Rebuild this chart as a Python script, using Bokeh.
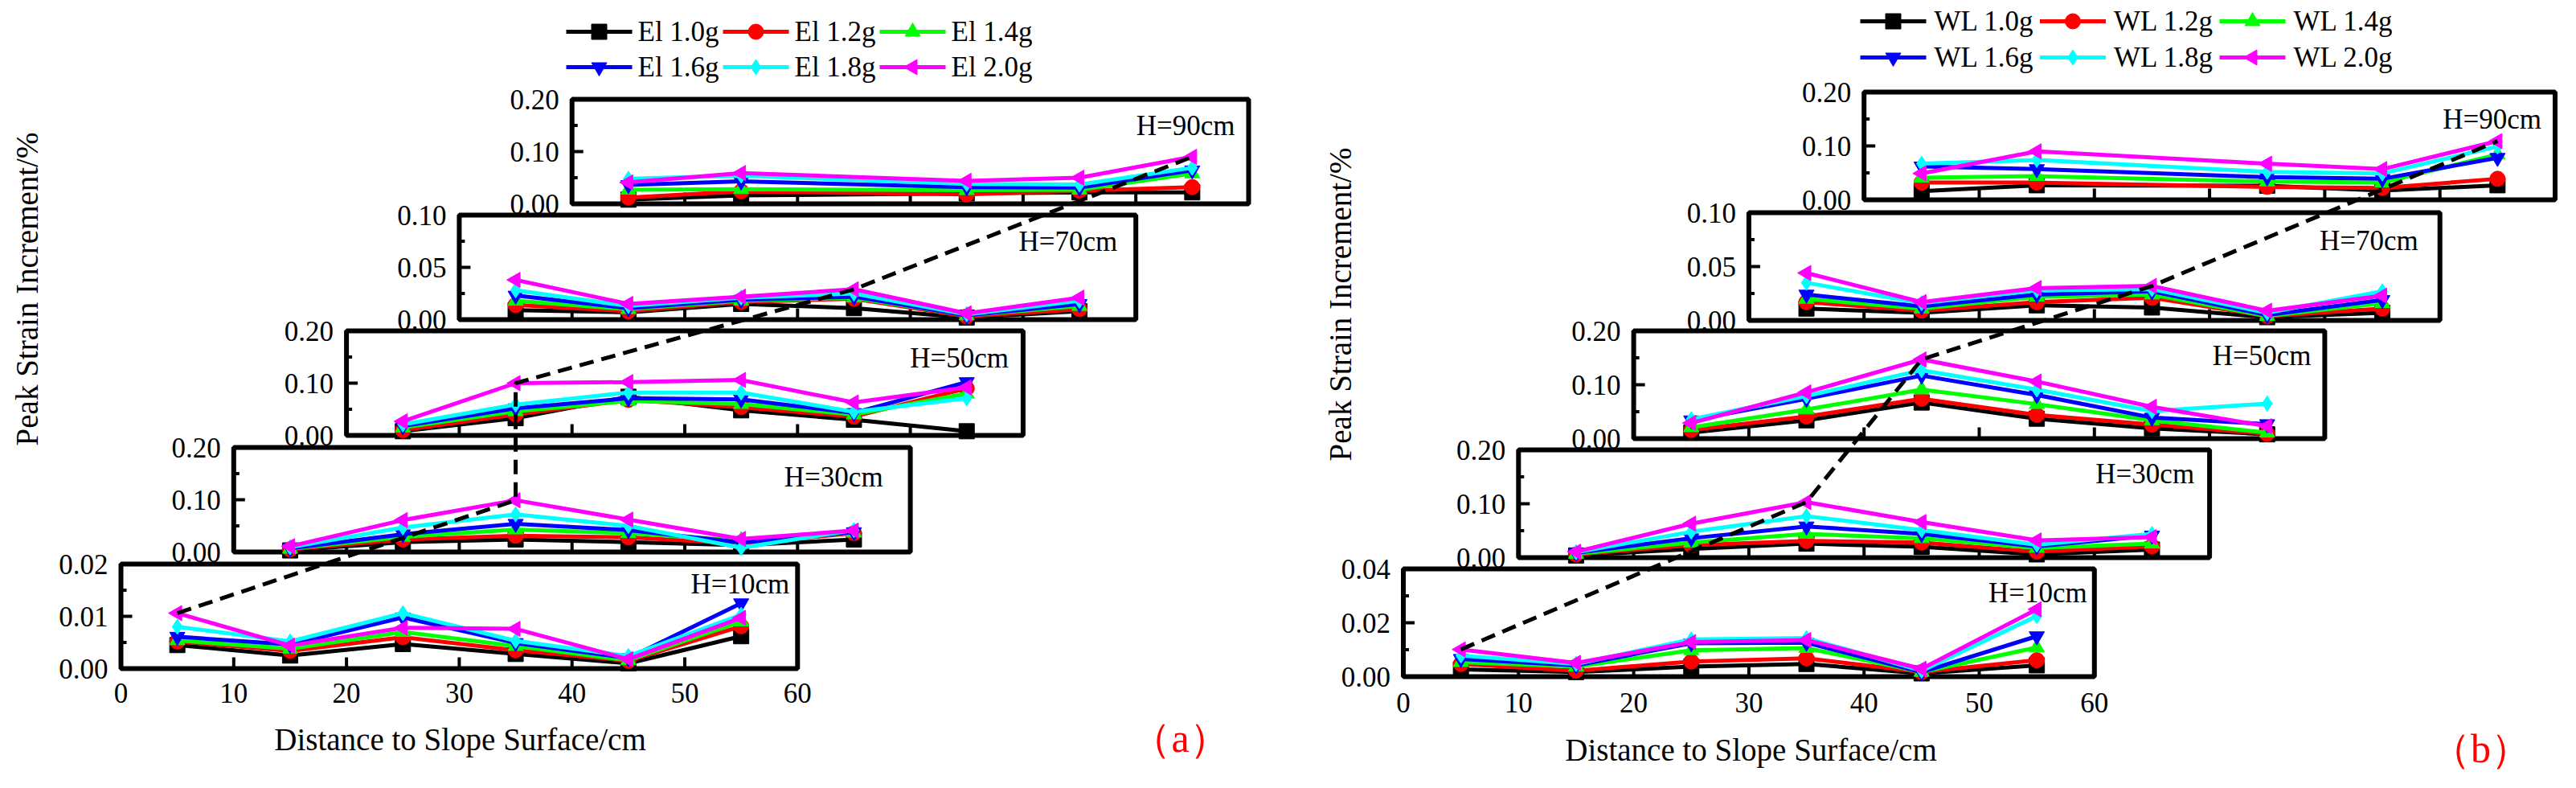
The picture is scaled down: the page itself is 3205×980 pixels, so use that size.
import math

from bokeh.core.properties import value
from bokeh.embed import file_html
from bokeh.layouts import row
from bokeh.models import Range1d
from bokeh.plotting import figure
from bokeh.resources import INLINE

FONT = "Liberation Serif"

# 共通設定
heights = ["H=10cm", "H=30cm", "H=50cm", "H=70cm", "H=90cm"]
levels = ["1.0g", "1.2g", "1.4g", "1.6g", "1.8g", "2.0g"]
colors = ["#000000", "#ff0000", "#00ff00", "#0000ff", "#00ffff", "#ff00ff"]
markers = ["square", "circle", "triangle", "inverted_triangle", "diamond", "triangle"]
marker_angles = [0, 0, 0, 0, 0, math.pi / 2]   # 2.0g は左向き三角
x_local = [5, 15, 25, 35, 45, 55]
x_local_90 = [5, 15, 35, 45, 55]     # H=90cm は 25cm の測点なし
x_ticks = [0, 10, 20, 30, 40, 50, 60]
x_ticks_inner = [10, 20, 30, 40, 50]
panel_shift = [0, 10, 20, 30, 40]     # パネルごとの横ずらし (cm)

# (a) El 波
el_y_max = [0.02, 0.2, 0.2, 0.1, 0.2]
el_y_major = [[0, 0.01, 0.02], [0, 0.1, 0.2], [0, 0.1, 0.2], [0, 0.05, 0.1], [0, 0.1, 0.2]]
el_y_minor = [[0.005, 0.015], [0.05, 0.15], [0.05, 0.15], [0.025, 0.075], [0.05, 0.15]]
el_10 = [
    [0.0045, 0.0025, 0.0047, 0.0028, 0.0010, 0.0062],
    [0.0052, 0.0034, 0.0060, 0.0035, 0.0015, 0.0081],
    [0.0054, 0.0038, 0.0070, 0.0043, 0.0016, 0.0090],
    [0.0061, 0.0046, 0.0098, 0.0049, 0.0020, 0.0125],
    [0.0080, 0.0052, 0.0106, 0.0053, 0.0024, 0.0103],
    [0.0106, 0.0044, 0.0078, 0.0076, 0.0018, 0.0097],
]
el_30 = [
    [0.003, 0.019, 0.024, 0.019, 0.013, 0.024],
    [0.005, 0.024, 0.031, 0.028, 0.016, 0.036],
    [0.006, 0.029, 0.043, 0.036, 0.022, 0.037],
    [0.007, 0.034, 0.054, 0.042, 0.018, 0.038],
    [0.009, 0.047, 0.072, 0.050, 0.008, 0.042],
    [0.011, 0.061, 0.099, 0.062, 0.025, 0.041],
]
el_50 = [
    [0.008, 0.033, 0.074, 0.048, 0.030, 0.008],
    [0.010, 0.040, 0.068, 0.054, 0.036, 0.090],
    [0.015, 0.046, 0.066, 0.060, 0.040, 0.080],
    [0.018, 0.052, 0.071, 0.069, 0.043, 0.102],
    [0.021, 0.059, 0.082, 0.082, 0.045, 0.071],
    [0.027, 0.100, 0.102, 0.106, 0.063, 0.092],
]
el_70 = [
    [0.009, 0.007, 0.015, 0.011, 0.002, 0.008],
    [0.014, 0.008, 0.017, 0.020, 0.003, 0.010],
    [0.018, 0.010, 0.018, 0.021, 0.004, 0.013],
    [0.023, 0.011, 0.019, 0.022, 0.004, 0.015],
    [0.028, 0.013, 0.021, 0.025, 0.005, 0.018],
    [0.038, 0.015, 0.022, 0.029, 0.006, 0.021],
]
el_90 = [
    [0.008, 0.016, 0.020, 0.022, 0.022],
    [0.012, 0.024, 0.018, 0.025, 0.032],
    [0.027, 0.028, 0.026, 0.027, 0.058],
    [0.036, 0.043, 0.032, 0.031, 0.064],
    [0.048, 0.054, 0.038, 0.037, 0.069],
    [0.041, 0.059, 0.044, 0.050, 0.090],
]
el_guide = [(0, 5), (1, 25), (2, 15), (3, 35), (4, 55)]   # (パネル, 測点) 2.0g を結ぶ破線

# (b) WL 波
wl_y_max = [0.04, 0.2, 0.2, 0.1, 0.2]
wl_y_major = [[0, 0.02, 0.04], [0, 0.1, 0.2], [0, 0.1, 0.2], [0, 0.05, 0.1], [0, 0.1, 0.2]]
wl_y_minor = [[0.01, 0.03], [0.05, 0.15], [0.05, 0.15], [0.025, 0.075], [0.05, 0.15]]
wl_10 = [
    [0.0027, 0.0017, 0.0037, 0.0047, 0.0012, 0.0042],
    [0.0047, 0.0022, 0.0056, 0.0068, 0.0017, 0.0061],
    [0.0054, 0.0037, 0.0098, 0.0106, 0.0017, 0.0108],
    [0.0066, 0.0042, 0.0124, 0.0126, 0.0017, 0.0150],
    [0.0078, 0.0047, 0.0138, 0.0143, 0.0022, 0.0225],
    [0.0101, 0.0051, 0.0128, 0.0136, 0.0029, 0.0250],
]
wl_30 = [
    [0.004, 0.016, 0.026, 0.020, 0.006, 0.015],
    [0.006, 0.023, 0.031, 0.028, 0.011, 0.021],
    [0.007, 0.028, 0.044, 0.036, 0.018, 0.026],
    [0.009, 0.036, 0.058, 0.044, 0.021, 0.041],
    [0.010, 0.048, 0.077, 0.051, 0.024, 0.044],
    [0.011, 0.063, 0.103, 0.066, 0.032, 0.038],
]
wl_50 = [
    [0.011, 0.034, 0.067, 0.037, 0.019, 0.008],
    [0.016, 0.041, 0.074, 0.044, 0.026, 0.009],
    [0.021, 0.054, 0.091, 0.064, 0.034, 0.011],
    [0.034, 0.074, 0.117, 0.081, 0.039, 0.027],
    [0.036, 0.079, 0.127, 0.091, 0.051, 0.065],
    [0.029, 0.086, 0.147, 0.106, 0.059, 0.023],
]
wl_70 = [
    [0.011, 0.007, 0.014, 0.012, 0.003, 0.007],
    [0.017, 0.009, 0.017, 0.021, 0.004, 0.011],
    [0.020, 0.011, 0.022, 0.024, 0.004, 0.016],
    [0.024, 0.013, 0.024, 0.027, 0.005, 0.019],
    [0.035, 0.016, 0.028, 0.029, 0.007, 0.027],
    [0.044, 0.017, 0.030, 0.032, 0.009, 0.023],
]
wl_90 = [
    [0.016, 0.027, 0.026, 0.017, 0.027],
    [0.032, 0.032, 0.024, 0.022, 0.039],
    [0.041, 0.044, 0.034, 0.032, 0.084],
    [0.062, 0.057, 0.042, 0.039, 0.078],
    [0.067, 0.074, 0.052, 0.049, 0.099],
    [0.049, 0.090, 0.067, 0.057, 0.109],
]
wl_guide = [(0, 5), (1, 25), (2, 25), (3, 35), (4, 55)]

# レイアウト (px)
#   left/top: 図のページ上の左上, x0/y0: 最下段パネル左下 (図の左端/下端から), ppu: 1cm の px
#   hlab: "H=..cm" の位置 (パネル右上からのずれ)
#   legend: (1列目の線の始点 X, 1行目 Y, 列間隔, 行間隔, 線の長さ, 文字までの隙間) ページ座標
#   ytitle/xtitle/tag: 文字の中心 (ページ座標)
LAY_A = dict(left=8, top=8, width=1600, height=964, x0=150, y0=133, ppu=14.03,
             bottoms=[0, 145, 290, 434, 578], band_h=130, xlab_off=30,
             hlab=[(-10, 25), (-34, 37), (-18, 34), (-23, 33), (-17, 33)],
             legend=(712, 47, 195, 44, 82, 7),
             ytitle=(41, 367), xtitle=(580, 927), tag=(1476, 925))
LAY_B = dict(left=1608, top=8, width=1589, height=964, x0=145.5, y0=123, ppu=14.33,
             bottoms=[0, 148, 296, 443, 593], band_h=134, xlab_off=32,
             hlab=[(-9, 30), (-19, 30), (-17, 31), (-27, 35), (-17, 34)],
             legend=(2322, 34, 223.5, 45, 82, 10),
             ytitle=(1675, 386), xtitle=(2186, 940), tag=(3094, 938))


def txt(p, x, y, text, size, **kw):
    p.text(x=x, y=y, text=text, text_font=value(FONT), text_font_size=value(size),
           text_color=kw.pop("text_color", "black"), **kw)


def make_fig(wave, panels, y_max, y_major, y_minor, guide, lay, tag):
    """1 枚分 (5 段のずらしパネル) を作る"""
    W, H, h = lay["width"], lay["height"], lay["band_h"]
    xl, xh = -lay["x0"] / lay["ppu"], (W - lay["x0"]) / lay["ppu"]
    p = figure(width=W, height=H, x_range=Range1d(xl, xh), y_range=Range1d(-lay["y0"], H - lay["y0"]),
               x_axis_location=None, y_axis_location=None, toolbar_location=None,
               output_backend="svg", min_border=0)
    p.outline_line_color = None
    p.xgrid.visible = False
    p.ygrid.visible = False

    # ページ座標 -> 既定レンジ (x: cm, y: 最下段下端からの px)
    def gx(X):
        return (X - lay["left"] - lay["x0"]) / lay["ppu"]

    def gy(Y):
        return lay["top"] + H - lay["y0"] - Y

    xr, yr = {}, {}
    for k in range(5):
        b, m = lay["bottoms"][k], y_max[k]
        xr[f"x{k}"] = Range1d(xl - panel_shift[k], xh - panel_shift[k])
        yr[f"y{k}"] = Range1d((-lay["y0"] - b) / h * m, (H - lay["y0"] - b) / h * m)
    p.extra_x_ranges = xr
    p.extra_y_ranges = yr

    for k, rows in enumerate(panels):
        kw = dict(x_range_name=f"x{k}", y_range_name=f"y{k}")
        xs = x_local_90 if k == 4 else x_local
        p.quad(left=[0], right=[60], bottom=[0], top=[y_max[k]], fill_color=None,
               line_color="black", line_width=6, **kw)
        p.ray(x=x_ticks_inner, y=0, length=14, angle=math.pi / 2, length_units="screen",
              line_color="black", line_width=4, **kw)
        p.ray(x=0, y=y_major[k], length=14, angle=0, length_units="screen",
              line_color="black", line_width=4, **kw)
        p.ray(x=0, y=y_minor[k], length=7, angle=0, length_units="screen",
              line_color="black", line_width=4, **kw)
        txt(p, 0, y_major[k], [f"{v:.2f}" for v in y_major[k]], "35px", x_offset=-16,
            text_align="right", text_baseline="middle", **kw)
        hdx, hdy = lay["hlab"][k]
        txt(p, [60], [y_max[k]], [heights[k]], "35px", x_offset=hdx, y_offset=hdy,
            text_align="right", text_baseline="middle", **kw)
        if k == 0:
            txt(p, x_ticks, 0, [str(t) for t in x_ticks], "35px", y_offset=lay["xlab_off"],
                text_align="center", text_baseline="middle", **kw)
        for i, vals in enumerate(rows):
            p.line(xs, vals, line_color=colors[i], line_width=5, **kw)
            p.scatter(xs, vals, marker=markers[i], size=19, angle=marker_angles[i],
                      fill_color=colors[i], line_color=colors[i], **kw)

    # 2.0g の最大点を結ぶ破線 (各段の値を共通の縦座標へ)
    dx, dy = [], []
    for k, xl_ in guide:
        xs = x_local_90 if k == 4 else x_local
        v = panels[k][5][xs.index(xl_)]
        dx.append(panel_shift[k] + xl_)
        dy.append(lay["bottoms"][k] + v / y_max[k] * h)
    p.line(dx, dy, line_color="black", line_width=5, line_dash="18 10")

    # 凡例 (2 行 3 列, 左向き三角を出すため自前で描く)
    X0, Y0, DX, DY, GL, GAP = lay["legend"]
    for i, lev in enumerate(levels):
        X = X0 + (i % 3) * DX
        y = gy(Y0 + (i // 3) * DY)
        p.segment(x0=[gx(X)], y0=[y], x1=[gx(X + GL)], y1=[y], line_color=colors[i], line_width=5)
        p.scatter([gx(X + GL / 2)], [y], marker=markers[i], size=19, angle=marker_angles[i],
                  fill_color=colors[i], line_color=colors[i])
        txt(p, [gx(X + GL + GAP)], [y], [f"{wave} {lev}"], "35px",
            text_align="left", text_baseline="middle")

    # 軸タイトル, 図番号
    txt(p, [gx(lay["ytitle"][0])], [gy(lay["ytitle"][1])], ["Peak Strain Increment/%"], "39px",
        angle=math.pi / 2, text_align="center", text_baseline="middle")
    txt(p, [gx(lay["xtitle"][0])], [gy(lay["xtitle"][1])], ["Distance to Slope Surface/cm"], "39px",
        text_align="center", text_baseline="middle")
    txt(p, [gx(lay["tag"][0])], [gy(lay["tag"][1])], [tag], "50px", text_color="red",
        text_align="center", text_baseline="middle")
    return p


pa = make_fig("El", [el_10, el_30, el_50, el_70, el_90], el_y_max, el_y_major, el_y_minor,
              el_guide, LAY_A, "（a）")
pb = make_fig("WL", [wl_10, wl_30, wl_50, wl_70, wl_90], wl_y_max, wl_y_major, wl_y_minor,
              wl_guide, LAY_B, "（b）")

open("out.html", "w").write(file_html(row(pa, pb), INLINE))
